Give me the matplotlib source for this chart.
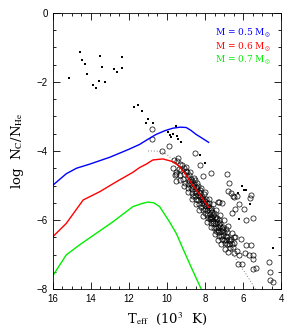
import matplotlib.pyplot as plt
from matplotlib.ticker import MultipleLocator

plt.rcParams['font.family'] = ['Liberation Sans', 'DejaVu Sans']
plt.rcParams['mathtext.fontset'] = 'stix'

# evolutionary tracks (Teff in 10^3 K, log NC/NHe)
blue_t = [16.0, 15.3, 14.76, 14.06, 13.0, 12.0, 11.44, 11.0, 10.57, 10.1, 9.69, 9.3, 8.99, 8.75, 8.47, 8.15, 7.81]
blue_c = [-4.99, -4.66, -4.50, -4.38, -4.18, -3.95, -3.81, -3.66, -3.52, -3.41, -3.34, -3.31, -3.32, -3.40, -3.52, -3.63, -3.75]

red_t = [16.0, 15.3, 14.41, 13.54, 12.66, 11.8, 11.44, 11.09, 10.74, 10.22, 9.69, 9.34, 9.0, 8.65, 8.2, 7.8]
red_c = [-6.48, -6.10, -5.42, -5.18, -4.89, -4.62, -4.48, -4.38, -4.26, -4.23, -4.31, -4.45, -4.70, -4.99, -5.32, -5.63]

green_t = [16.0, 15.3, 14.6, 13.97, 12.84, 11.79, 11.3, 11.0, 10.7, 10.39, 9.87, 9.5, 9.17, 8.7, 8.2]
green_c = [-7.61, -7.01, -6.72, -6.48, -6.05, -5.61, -5.52, -5.48, -5.50, -5.61, -6.05, -6.40, -6.82, -7.40, -8.0]

# dotted relation
dot_t = [11.0, 10.6, 10.3, 10.0, 9.8, 9.5, 9.0, 8.5, 8.0, 7.5, 6.9, 6.3, 5.8, 5.35]
dot_c = [-4.00, -4.00, -4.02, -4.10, -4.20, -4.38, -4.65, -5.05, -5.45, -5.95, -6.60, -7.20, -7.60, -8.00]

# open circles
circ_t = [9.45, 9.38, 9.50, 9.30, 9.25, 9.33, 9.20, 9.12, 9.08, 9.15, 9.02, 9.05,
          8.95, 8.92, 8.88, 8.85, 8.90, 8.82, 8.76, 8.72, 8.70, 8.66, 8.68, 8.74, 8.62,
          8.58, 8.55, 8.52, 8.50, 8.46, 8.48, 8.54, 8.40, 8.38, 8.35, 8.32, 8.30, 8.36, 8.28,
          8.24, 8.22, 8.18, 8.20, 8.15, 8.12, 8.26, 8.08, 8.05, 8.02, 8.00, 7.98, 8.06, 7.96,
          7.92, 7.90, 7.88, 7.85, 7.84, 7.93, 7.78, 7.75, 7.72, 7.70, 7.68, 7.80, 7.74,
          7.64, 7.62, 7.58, 7.56, 7.55, 7.66, 7.60, 7.50, 7.48, 7.44, 7.42, 7.40, 7.52,
          7.36, 7.33, 7.30, 7.28, 7.26, 7.38, 7.32, 7.20, 7.18, 7.14, 7.12, 7.10, 7.22,
          7.06, 7.04, 7.00, 6.98, 6.95, 7.08, 6.92, 6.88, 6.84, 6.82, 6.86,
          6.76, 6.72, 6.68, 6.70, 6.60, 6.55, 6.50,
          9.00, 8.80, 8.60, 8.40, 8.20, 8.00, 7.80, 7.60, 7.40, 7.20, 7.00, 6.80, 6.60, 6.45,
          9.30, 9.10, 8.90, 8.70, 8.50, 8.30, 8.10, 7.90, 7.70, 7.50, 7.30, 7.15, 6.95, 6.80,
          9.65, 9.70, 9.60, 9.52, 8.64, 8.10, 7.70, 7.25, 6.90, 6.62,
          10.78, 10.78, 9.90, 10.25, 9.43, 9.55, 8.52, 8.24, 7.70, 6.84, 8.10, 6.72,
          6.79, 6.63, 6.55, 6.34, 6.45, 5.59, 5.61, 6.20, 5.94, 6.41, 6.58, 5.85, 5.50,
          7.11, 7.34, 7.28, 6.11, 5.85, 5.88, 6.20, 5.67, 5.45, 5.48, 5.33, 5.45, 6.24,
          6.06, 4.63, 4.59, 4.59, 4.45, 5.57, 6.40, 6.30, 6.50]
circ_c = [-4.30, -4.52, -4.62, -4.38, -4.55, -4.70, -4.40, -4.50, -4.66, -4.82, -4.58, -4.92,
          -4.62, -4.78, -4.95, -4.70, -5.08, -4.86, -4.80, -4.96, -5.10, -4.88, -5.22, -5.04, -5.00,
          -4.95, -5.15, -5.30, -5.05, -5.22, -5.40, -4.85, -5.10, -5.28, -5.42, -5.18, -5.55, -5.00, -5.34,
          -5.22, -5.40, -5.50, -5.62, -5.32, -5.70, -5.12, -5.38, -5.55, -5.68, -5.46, -5.80, -5.25, -5.60,
          -5.50, -5.70, -5.85, -5.58, -5.95, -5.38, -5.65, -5.82, -5.98, -5.72, -6.08, -5.52, -5.90,
          -5.78, -5.95, -6.10, -5.86, -6.22, -5.66, -6.02, -5.92, -6.08, -6.22, -5.98, -6.32, -5.80,
          -6.05, -6.20, -6.35, -6.12, -6.45, -5.95, -6.28, -6.18, -6.32, -6.46, -6.24, -6.55, -6.08,
          -6.30, -6.44, -6.58, -6.36, -6.66, -6.20, -6.45, -6.58, -6.70, -6.50, -6.36,
          -6.56, -6.68, -6.62, -6.80, -6.70, -6.78, -6.66,
          -4.45, -4.62, -4.78, -4.92, -5.08, -5.20, -5.38, -5.55, -5.70, -5.85, -6.00, -6.18, -6.38, -6.50,
          -4.85, -5.02, -5.20, -5.38, -5.55, -5.72, -5.88, -6.05, -6.20, -6.40, -6.58, -6.70, -6.85, -6.92,
          -4.25, -4.50, -4.70, -4.88, -5.30, -5.45, -5.90, -6.00, -6.25, -6.55,
          -3.35, -3.66, -3.87, -4.00, -4.19, -4.68, -4.07, -4.41, -4.63, -4.68, -4.72, -4.94,
          -5.15, -5.23, -5.30, -5.30, -5.33, -5.28, -5.36, -5.54, -5.69, -5.67, -5.79, -6.00, -5.93,
          -5.50, -5.47, -5.49, -6.55, -6.72, -6.95, -7.01, -7.00, -7.00, -7.13, -7.40, -7.42, -7.28,
          -7.28, -7.21, -7.50, -7.74, -7.79, -6.72, -6.50, -6.90, -6.95]

# filled dots
dots_t = [15.16, 14.58, 14.46, 14.29, 14.22, 13.89, 13.76, 13.59, 13.52, 13.40, 13.24, 12.80,
          12.61, 12.38, 12.38, 11.75, 11.54, 11.34, 11.13, 11.02, 10.74,
          9.52, 9.96, 9.83, 9.78, 9.69, 9.48, 9.41, 9.24, 8.27, 8.00,
          6.06, 5.96, 5.85, 6.29, 5.62, 6.20, 4.42]
dots_c = [-1.90, -1.13, -1.37, -1.47, -1.76, -2.08, -2.17, -1.98, -1.24, -1.57, -1.99, -1.63,
          -1.72, -1.59, -1.28, -2.72, -2.68, -2.84, -3.18, -3.06, -3.20,
          -3.28, -3.44, -3.54, -3.60, -3.52, -3.58, -3.66, -3.73, -4.13, -4.36,
          -5.00, -5.13, -5.13, -5.23, -5.54, -5.96, -6.80]

masses = ["0.5", "0.6", "0.7"]
colors = ["#0000ff", "#ff0000", "#00ee00"]

fig = plt.figure(figsize=(2.99, 3.30), dpi=100)
ax = fig.add_axes([0.177, 0.124, 0.763, 0.837])

ax.plot(dot_t, dot_c, color="gray", linestyle=(0, (1, 2)), linewidth=0.7)
ax.plot(circ_t, circ_c, "o", markerfacecolor="none", markeredgecolor="black",
        markersize=3.7, markeredgewidth=0.5)
ax.plot(dots_t, dots_c, "s", color="black", markersize=1.5, markeredgewidth=0)
ax.plot(blue_t, blue_c, color=colors[0], linewidth=1.0)
ax.plot(red_t, red_c, color=colors[1], linewidth=1.0)
ax.plot(green_t, green_c, color=colors[2], linewidth=1.0)

for i in range(3):
    ax.text(0.71, 0.928 - i * 0.049, "M = " + masses[i] + r" M$_{\odot}$",
            color=colors[i], transform=ax.transAxes, fontsize=6.5,
            family="DejaVu Serif", va="center")

ax.set_xlim(16, 4)
ax.set_ylim(-8, 0)
ax.xaxis.set_major_locator(MultipleLocator(2))
ax.xaxis.set_minor_locator(MultipleLocator(0.5))
ax.yaxis.set_major_locator(MultipleLocator(2))
ax.yaxis.set_minor_locator(MultipleLocator(0.5))
ax.tick_params(which="both", direction="in", top=True, right=True, labelsize=7, width=0.6)
ax.tick_params(which="major", length=5)
ax.tick_params(which="minor", length=2.5)
for s in ax.spines.values():
    s.set_linewidth(0.6)

ax.set_xlabel(r"T$_{\rm eff}$  (10$^3$  K)", family="DejaVu Serif", fontsize=9.5, labelpad=5)
ax.set_ylabel(r"log  N$_{\rm C}$/N$_{\rm He}$", family="DejaVu Serif", fontsize=9.5, labelpad=8)

plt.savefig("out.png", dpi=100)
